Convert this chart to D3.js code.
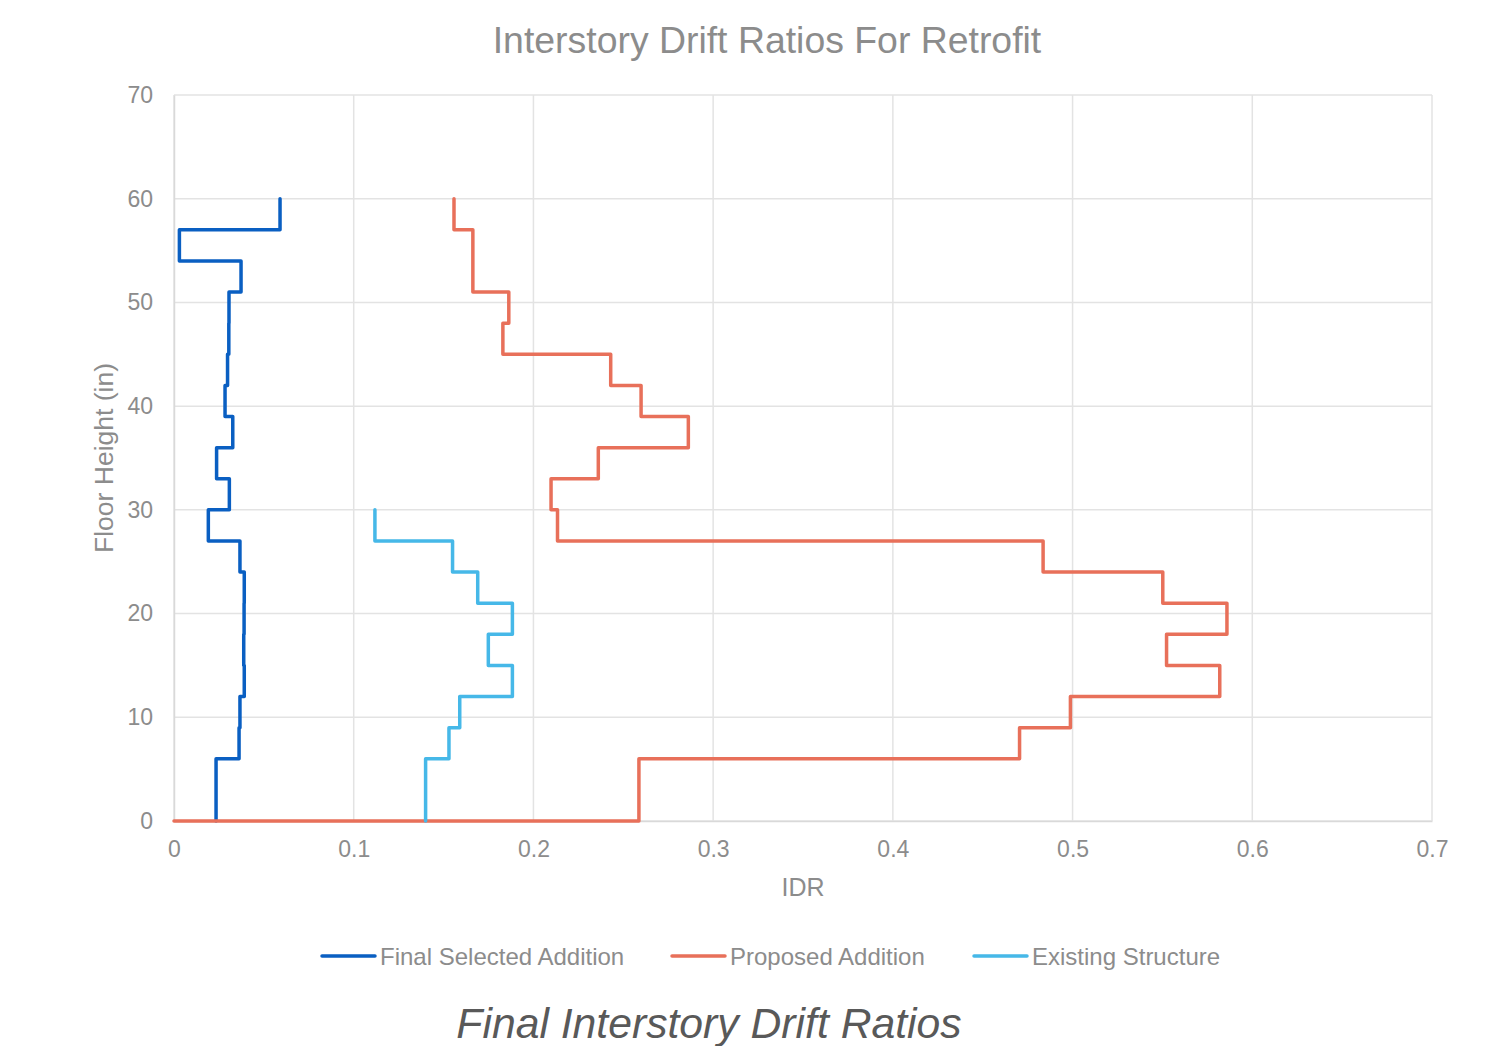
<!DOCTYPE html>
<html>
<head>
<meta charset="utf-8">
<script src="https://cdn.jsdelivr.net/npm/d3@7"></script>
<style>
  html, body { margin: 0; padding: 0; background: #ffffff; }
  svg { display: block; }
  text { font-family: "Liberation Sans", Arial, sans-serif; }
</style>
</head>
<body>
<svg id="chart" width="1489" height="1046"></svg>
<script>
// Story boundaries (floor heights) and interstory drift per story, bottom story first
const storyLevels = [0, 3, 6, 9, 12, 15, 18, 21, 24, 27, 30, 33, 36, 39, 42, 45, 48, 51, 54, 57, 60];

const finalSelected = [0.0234, 0.0234, 0.0362, 0.0367, 0.0391, 0.0388, 0.0390, 0.0391, 0.0367, 0.0191,
                       0.0308, 0.0237, 0.0327, 0.0284, 0.0298, 0.0305, 0.0306, 0.0373, 0.0030, 0.0590];
const proposed = [0.2587, 0.2587, 0.4705, 0.4988, 0.5819, 0.5523, 0.5859, 0.5502, 0.4836, 0.2134,
                  0.2098, 0.2361, 0.2862, 0.2599, 0.2430, 0.1830, 0.1863, 0.1663, 0.1663, 0.1558];
const existing = [0.1400, 0.1400, 0.1530, 0.1590, 0.1883, 0.1749, 0.1883, 0.1690, 0.1550, 0.1118];

const seriesNames = ["Final Selected Addition", "Proposed Addition", "Existing Structure"];
const seriesColors = ["#0A5FC2", "#E8705A", "#46B8E8"];
const seriesValues = [finalSelected, proposed, existing];
const seriesFromOrigin = [false, true, false];

const xTicks = [0, 0.1, 0.2, 0.3, 0.4, 0.5, 0.6, 0.7];
const yTicks = [0, 10, 20, 30, 40, 50, 60, 70];

const chartTitle = "Interstory Drift Ratios For Retrofit";
const xTitle = "IDR";
const yTitle = "Floor Height (in)";
const caption = "Final Interstory Drift Ratios";

const svg = d3.select("#chart");
const plot = { left: 174, right: 1432, top: 95, bottom: 821 };

const x = d3.scaleLinear().domain([0, 0.7]).range([plot.left, plot.right]);
const y = d3.scaleLinear().domain([0, 70]).range([plot.bottom, plot.top]);

const gridColor = "#e3e3e3";
const textColor = "#8c8c8c";

// Gridlines
svg.append("g")
  .selectAll("line")
  .data(yTicks)
  .join("line")
  .attr("x1", plot.left).attr("x2", plot.right)
  .attr("y1", d => y(d)).attr("y2", d => y(d))
  .attr("stroke", gridColor).attr("stroke-width", 1.5);

svg.append("g")
  .selectAll("line")
  .data(xTicks)
  .join("line")
  .attr("x1", d => x(d)).attr("x2", d => x(d))
  .attr("y1", plot.top).attr("y2", plot.bottom)
  .attr("stroke", gridColor).attr("stroke-width", 1.5);

// Axes (labels only; gridlines provide the frame)
const xAxis = svg.append("g")
  .attr("transform", `translate(0,${plot.bottom})`)
  .call(d3.axisBottom(x).tickValues(xTicks).tickSize(0).tickPadding(20).tickFormat(d => d3.format("")(+d.toFixed(1))));
xAxis.select(".domain").attr("stroke", "#d9d9d9").attr("stroke-width", 1.5);
xAxis.selectAll("text").attr("fill", textColor).attr("font-size", 23)
  .style("font-family", "'Liberation Sans', Arial, sans-serif");

const yAxis = svg.append("g")
  .attr("transform", `translate(${plot.left},0)`)
  .call(d3.axisLeft(y).tickValues(yTicks).tickSize(0).tickPadding(21));
yAxis.select(".domain").attr("stroke", "#d9d9d9").attr("stroke-width", 1.5);
yAxis.selectAll("text").attr("fill", textColor).attr("font-size", 23)
  .style("font-family", "'Liberation Sans', Arial, sans-serif");

// Step profiles: each story drawn as a vertical run at its drift value
function stepPoints(values, fromOrigin) {
  const pts = [];
  if (fromOrigin) pts.push([0, storyLevels[0]]);
  values.forEach((v, i) => {
    pts.push([v, storyLevels[i]]);
    pts.push([v, storyLevels[i + 1]]);
  });
  return pts;
}

const line = d3.line().x(d => x(d[0])).y(d => y(d[1]));

seriesValues.forEach((vals, i) => {
  svg.append("path")
    .datum(stepPoints(vals, seriesFromOrigin[i]))
    .attr("d", line)
    .attr("fill", "none")
    .attr("stroke", seriesColors[i])
    .attr("stroke-width", 3.5)
    .attr("stroke-linejoin", "round")
    .attr("stroke-linecap", "round");
});

// Title
svg.append("text")
  .attr("x", 767).attr("y", 53)
  .attr("text-anchor", "middle")
  .attr("font-size", 37.4)
  .attr("fill", textColor)
  .text(chartTitle);

// Axis titles
svg.append("text")
  .attr("x", 803).attr("y", 896)
  .attr("text-anchor", "middle")
  .attr("font-size", 25)
  .attr("fill", textColor)
  .text(xTitle);

svg.append("text")
  .attr("transform", "translate(113,458) rotate(-90)")
  .attr("text-anchor", "middle")
  .attr("font-size", 26.5)
  .attr("fill", textColor)
  .text(yTitle);

// Legend
const legendX = [322, 672, 974];
const legend = svg.append("g");
seriesNames.forEach((name, i) => {
  legend.append("line")
    .attr("x1", legendX[i]).attr("x2", legendX[i] + 53)
    .attr("y1", 956).attr("y2", 956)
    .attr("stroke", seriesColors[i]).attr("stroke-width", 3.5)
    .attr("stroke-linecap", "round");
  legend.append("text")
    .attr("x", legendX[i] + 58).attr("y", 965)
    .attr("font-size", 24)
    .attr("fill", textColor)
    .text(name);
});

// Caption
svg.append("text")
  .attr("x", 709).attr("y", 1038)
  .attr("text-anchor", "middle")
  .attr("font-size", 42.7)
  .attr("font-style", "italic")
  .attr("fill", "#595959")
  .text(caption);
</script>
</body>
</html>
